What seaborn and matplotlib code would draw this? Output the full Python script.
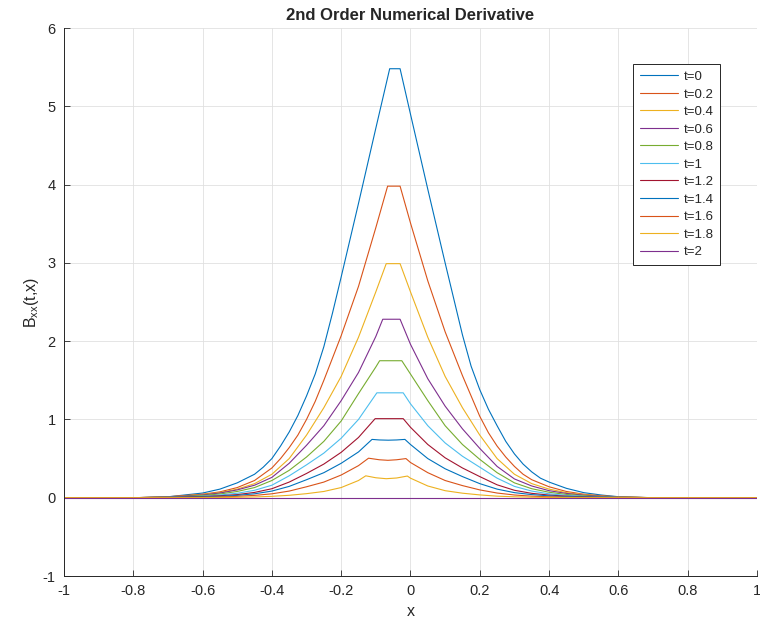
import numpy as np
import pandas as pd
import seaborn as sns
import matplotlib
matplotlib.use("Agg")
import matplotlib.pyplot as plt
from matplotlib.ticker import FormatStrFormatter

# values, one pair of lists per time step
T00_X = [-1.0, -0.8, -0.7, -0.6, -0.55, -0.5, -0.45, -0.425, -0.4, -0.375, -0.35, -0.325, -0.3, -0.275, -0.25,
         -0.225, -0.2, -0.15, -0.1, -0.06, -0.03, 0.0, 0.05, 0.1, 0.15, 0.175, 0.2, 0.225, 0.25, 0.275, 0.3,
         0.325, 0.35, 0.375, 0.4, 0.45, 0.5, 0.55, 0.6, 0.7, 1.0]
T00_B = [0, 0, 0.012, 0.06, 0.11, 0.19, 0.30, 0.39, 0.50, 0.66, 0.84, 1.05, 1.30, 1.58, 1.93,
         2.36, 2.82, 3.76, 4.72, 5.48, 5.48, 4.90, 3.94, 3.00, 2.08, 1.68, 1.38, 1.13, 0.92, 0.72, 0.56,
         0.43, 0.33, 0.25, 0.20, 0.12, 0.065, 0.035, 0.013, 0, 0]

T02_X = [-1.0, -0.8, -0.7, -0.6, -0.55, -0.5, -0.45, -0.4, -0.375, -0.35, -0.325, -0.3, -0.275, -0.25, -0.2,
         -0.15, -0.1, -0.066, -0.03, 0.0, 0.05, 0.1, 0.15, 0.2, 0.225, 0.25, 0.275, 0.3, 0.325, 0.35, 0.4,
         0.45, 0.5, 0.55, 0.6, 0.7, 1.0]
T02_B = [0, 0, 0.012, 0.045, 0.075, 0.13, 0.22, 0.38, 0.50, 0.64, 0.80, 1.0, 1.23, 1.5, 2.07,
         2.7, 3.45, 3.98, 3.98, 3.51, 2.77, 2.12, 1.56, 1.04, 0.83, 0.66, 0.52, 0.40, 0.30, 0.23, 0.14,
         0.08, 0.045, 0.025, 0.012, 0, 0]

T04_X = [-1.0, -0.8, -0.7, -0.6, -0.55, -0.5, -0.45, -0.4, -0.35, -0.3, -0.25, -0.2, -0.15, -0.1, -0.07,
         -0.03, 0.0, 0.05, 0.1, 0.15, 0.2, 0.25, 0.3, 0.35, 0.4, 0.45, 0.5, 0.55, 0.6, 0.7, 1.0]
T04_B = [0, 0, 0.01, 0.04, 0.065, 0.11, 0.18, 0.30, 0.50, 0.80, 1.15, 1.55, 2.05, 2.63, 2.99,
         2.99, 2.63, 2.05, 1.55, 1.15, 0.80, 0.50, 0.30, 0.18, 0.11, 0.065, 0.04, 0.02, 0.01, 0, 0]

T06_X = [-1.0, -0.8, -0.7, -0.6, -0.55, -0.5, -0.45, -0.4, -0.35, -0.3, -0.25, -0.2, -0.15, -0.1, -0.08,
         -0.03, 0.0, 0.05, 0.1, 0.15, 0.2, 0.25, 0.3, 0.35, 0.4, 0.45, 0.5, 0.55, 0.6, 0.7, 1.0]
T06_B = [0, 0, 0.01, 0.035, 0.06, 0.10, 0.16, 0.26, 0.44, 0.67, 0.92, 1.24, 1.6, 2.06, 2.28,
         2.28, 1.96, 1.52, 1.17, 0.88, 0.63, 0.40, 0.24, 0.15, 0.09, 0.055, 0.033, 0.018, 0.008, 0, 0]

T08_X = [-1.0, -0.8, -0.7, -0.6, -0.55, -0.5, -0.45, -0.4, -0.35, -0.3, -0.25, -0.2, -0.15, -0.1, -0.089,
         -0.025, 0.0, 0.05, 0.1, 0.15, 0.2, 0.25, 0.3, 0.35, 0.4, 0.45, 0.5, 0.55, 0.6, 0.7, 1.0]
T08_B = [0, 0, 0.008, 0.028, 0.048, 0.08, 0.13, 0.22, 0.35, 0.52, 0.72, 0.98, 1.33, 1.67, 1.75,
         1.75, 1.58, 1.24, 0.92, 0.68, 0.49, 0.32, 0.19, 0.115, 0.07, 0.042, 0.025, 0.014, 0.007, 0, 0]

T10_X = [-1.0, -0.8, -0.7, -0.6, -0.55, -0.5, -0.45, -0.4, -0.35, -0.3, -0.25, -0.2, -0.15, -0.097,
         -0.021, 0.0, 0.05, 0.1, 0.15, 0.2, 0.25, 0.3, 0.35, 0.4, 0.45, 0.5, 0.55, 0.6, 0.7, 1.0]
T10_B = [0, 0, 0.006, 0.02, 0.035, 0.057, 0.095, 0.16, 0.28, 0.42, 0.57, 0.76, 1.0, 1.34,
         1.34, 1.2, 0.92, 0.70, 0.53, 0.39, 0.25, 0.145, 0.085, 0.05, 0.03, 0.018, 0.01, 0.005, 0, 0]

T12_X = [-1.0, -0.8, -0.7, -0.6, -0.55, -0.5, -0.45, -0.4, -0.35, -0.3, -0.25, -0.2, -0.15, -0.102,
         -0.021, 0.0, 0.05, 0.1, 0.15, 0.2, 0.25, 0.3, 0.35, 0.4, 0.45, 0.5, 0.55, 0.6, 0.7, 1.0]
T12_B = [0, 0, 0.005, 0.015, 0.025, 0.04, 0.068, 0.115, 0.2, 0.31, 0.43, 0.58, 0.77, 1.01,
         1.01, 0.9, 0.68, 0.51, 0.38, 0.27, 0.165, 0.095, 0.056, 0.034, 0.02, 0.012, 0.007, 0.004, 0, 0]

T14_X = [-1.0, -0.8, -0.7, -0.6, -0.55, -0.5, -0.45, -0.4, -0.35, -0.3, -0.25, -0.2, -0.15, -0.111, -0.09, -0.064,
         -0.04, -0.016, 0.0, 0.05, 0.1, 0.15, 0.2, 0.25, 0.3, 0.35, 0.4, 0.45, 0.5, 0.6, 0.7, 1.0]
T14_B = [0, 0, 0.003, 0.011, 0.018, 0.03, 0.05, 0.085, 0.145, 0.23, 0.32, 0.44, 0.585, 0.745, 0.738, 0.735,
         0.738, 0.745, 0.68, 0.50, 0.37, 0.27, 0.18, 0.11, 0.065, 0.04, 0.024, 0.014, 0.009, 0.002, 0, 0]

T16_X = [-1.0, -0.8, -0.7, -0.6, -0.55, -0.5, -0.45, -0.4, -0.35, -0.3, -0.25, -0.2, -0.15, -0.121, -0.09, -0.065,
         -0.04, -0.013, 0.0, 0.05, 0.1, 0.15, 0.2, 0.25, 0.3, 0.35, 0.4, 0.45, 0.5, 0.6, 1.0]
T16_B = [0, 0, 0.001, 0.006, 0.01, 0.018, 0.03, 0.05, 0.085, 0.14, 0.20, 0.29, 0.41, 0.505, 0.485, 0.478,
         0.485, 0.50, 0.45, 0.32, 0.22, 0.155, 0.10, 0.06, 0.035, 0.02, 0.012, 0.007, 0.004, 0, 0]

T18_X = [-1.0, -0.7, -0.6, -0.5, -0.45, -0.4, -0.35, -0.3, -0.25, -0.2, -0.15, -0.129, -0.1, -0.07,
         -0.04, -0.009, 0.0, 0.05, 0.1, 0.15, 0.2, 0.25, 0.3, 0.35, 0.4, 0.5, 0.6, 1.0]
T18_B = [0, 0, 0.001, 0.006, 0.01, 0.018, 0.031, 0.052, 0.08, 0.13, 0.22, 0.28, 0.255, 0.243,
         0.252, 0.277, 0.25, 0.15, 0.09, 0.058, 0.036, 0.02, 0.012, 0.007, 0.004, 0.001, 0, 0]

T20_X = [-1.0, 1.0]
T20_B = [0, 0]

LABELS = ["t=0", "t=0.2", "t=0.4", "t=0.6", "t=0.8", "t=1", "t=1.2", "t=1.4", "t=1.6", "t=1.8", "t=2"]
SERIES = [(T00_X, T00_B), (T02_X, T02_B), (T04_X, T04_B), (T06_X, T06_B), (T08_X, T08_B), (T10_X, T10_B),
          (T12_X, T12_B), (T14_X, T14_B), (T16_X, T16_B), (T18_X, T18_B), (T20_X, T20_B)]

# matlab default line order, it wraps round after seven
MATLAB = ["#0072BD", "#D95319", "#EDB120", "#7E2F8E", "#77AC30", "#4DBEEE", "#A2142F"]

sns.set_style("ticks")
plt.rcParams['font.family'] = ['Liberation Sans', 'DejaVu Sans']
plt.rcParams['mathtext.default'] = 'regular'
plt.rcParams['axes.unicode_minus'] = False

fig = plt.figure(figsize=(7.6, 6.24), dpi=100)
ax = fig.add_axes([0.0842, 0.0769, 0.9118, 0.8782])

for i, (xs, bs) in enumerate(SERIES):
    df = pd.DataFrame({"x": xs, "B": bs})
    sns.lineplot(data=df, x="x", y="B", ax=ax, color=MATLAB[i % 7], linewidth=0.8,
                 label=LABELS[i], estimator=None, sort=False)

ax.set_xlim(-1, 1)
ax.set_ylim(-1, 6)
ax.set_xticks(np.round(np.linspace(-1, 1, 11), 1))
ax.set_yticks(np.arange(-1, 7))
ax.xaxis.set_major_formatter(FormatStrFormatter('%g'))
ax.grid(True, color='#e0e0e0', linewidth=0.6)
ax.set_axisbelow(True)
for side in ['top', 'right']:
    ax.spines[side].set_visible(False)
for side in ['left', 'bottom']:
    ax.spines[side].set_color('#262626')
    ax.spines[side].set_linewidth(0.7)
ax.tick_params(direction='in', length=4, width=0.6, color='#262626', labelsize=10.5, pad=6,
               labelcolor='#262626')

ax.set_xlabel("x", fontsize=11.5, color='#262626', labelpad=4)
ax.set_ylabel("B$_{xx}$(t,x)", fontsize=11.5, color='#262626', labelpad=1)
ax.set_title("2nd Order Numerical Derivative", fontsize=12, fontweight='bold', pad=6)

handles, labels = ax.get_legend_handles_labels()
leg = ax.legend(handles, labels, loc='upper right', bbox_to_anchor=(0.947, 0.934), borderaxespad=0,
                fontsize=9.5, frameon=True, fancybox=False, framealpha=1, edgecolor='#262626',
                handlelength=2.9, handletextpad=0.4, labelspacing=0.4, borderpad=0.5)
leg.get_frame().set_linewidth(0.7)

fig.savefig("out.png", dpi=100)
